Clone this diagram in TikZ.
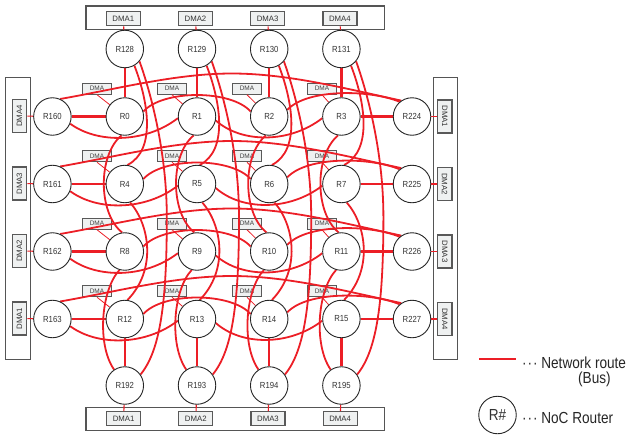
\documentclass[tikz,border=0pt]{standalone}
\usepackage{fontspec}
\setmainfont{Liberation Sans}
\newfontfamily\condfont[FakeStretch=0.88]{Liberation Sans}
\newfontfamily\legfont[FakeStretch=0.85]{Liberation Sans}
\definecolor{busred}{RGB}{236,30,38}
\definecolor{boxfill}{RGB}{239,241,241}
\definecolor{framegray}{RGB}{85,85,85}
\pgfdeclarelayer{back}
\pgfdeclarelayer{mid}
\pgfsetlayers{back,mid,main}
\begin{document}
\begin{tikzpicture}[x=1pt,y=-1pt,
  router/.style={circle, draw=black!85, line width=0.9pt, fill=white, minimum size=37.5pt, inner sep=0pt,
    font=\condfont\fontsize{8.8}{10}\selectfont, text=black!80},
  bus/.style={draw=busred, line width=1.8pt},
  busstraight/.style={draw=busred, line width=2.3pt},
  tap/.style={draw=busred, line width=0.8pt},
  edgetap/.style={draw=busred, line width=1.1pt},
  frame/.style={draw=framegray, line width=1.2pt},
  dmabox/.style={draw=black!65, line width=1.2pt, fill=boxfill, inner sep=0pt, minimum width=34pt, minimum height=14pt,
    font=\fontsize{7.8}{9}\selectfont, text=black!80},
  dmasmall/.style={draw=black!65, line width=1.1pt, fill=boxfill, inner sep=0pt, minimum width=28.5pt, minimum height=11pt,
    font=\fontsize{6.5}{7}\selectfont, text=black!75},
  legtext/.style={font=\legfont\fontsize{16}{18}\selectfont, text=black!85, inner sep=0pt},
]
\useasboundingbox (0,0) rectangle (632,434);

% ---------- frames ----------
\begin{pgfonlayer}{back}
\draw[frame] (86,6) rectangle (384.3,29.3);
\draw[frame] (86,407.7) rectangle (384.3,430.7);
\draw[frame] (5.3,77.3) rectangle (30.7,359.3);
\draw[frame] (433.3,77.3) rectangle (457.7,359.3);
\end{pgfonlayer}

% ---------- routers of the rows ----------
\foreach \rowi/\y in {0/116.5,1/184,2/251.5,3/319}{
  \pgfmathtruncatemacro\lname{160+\rowi}
  \pgfmathtruncatemacro\rname{224+\rowi}
  \pgfmathtruncatemacro\ldma{4-\rowi}
  \pgfmathtruncatemacro\rdma{\rowi+1}
  \node[router] (R\lname) at (52.4,\y) {R\lname};
  \node[router] (R\rname) at (412,\y) {R\rname};
  \begin{pgfonlayer}{back}
  \node[dmabox, minimum width=33pt, minimum height=14.4pt, rotate=90] (LD\rowi) at (19.5,\y-0.5) {DMA\ldma};
  \node[dmabox, minimum width=33pt, minimum height=14.4pt, rotate=-90] (RD\rowi) at (444.7,\y) {DMA\rdma};
  \end{pgfonlayer}
  \begin{pgfonlayer}{mid}
  \draw[edgetap] (LD\rowi) -- (R\lname);
  \draw[edgetap] (R\rname) -- (RD\rowi);
  \end{pgfonlayer}
  \foreach \coli/\x/\bx in {0/124.8/97,1/197/172,2/269.2/247,3/341.4/322}{
    \pgfmathtruncatemacro\nn{4*\rowi+\coli}
    \node[router] (R\nn) at (\x,\y) {R\nn};
    \begin{pgfonlayer}{back}
    \node[dmasmall] (D\nn) at (\bx,\y-27.8) {DMA};
    \end{pgfonlayer}
    \begin{pgfonlayer}{mid}
    \draw[tap] (D\nn.south) -- (R\nn);
    \end{pgfonlayer}
  }
}

% ---------- top and bottom routers ----------
\foreach \coli/\x in {0/124.8,1/197,2/269.2,3/341.4}{
  \pgfmathtruncatemacro\tname{128+\coli}
  \pgfmathtruncatemacro\bname{192+\coli}
  \pgfmathtruncatemacro\k{\coli+1}
  \node[router] (R\tname) at (\x,49) {R\tname};
  \node[router] (R\bname) at (\x,385.5) {R\bname};
  \begin{pgfonlayer}{back}
  \node[dmabox] (TD\coli) at (\x-1.5,18.7) {DMA\k};
  \node[dmabox] (BD\coli) at (\x-1.2,418.8) {DMA\k};
  \end{pgfonlayer}
  \begin{pgfonlayer}{mid}
  \draw[edgetap] (TD\coli) -- (R\tname);
  \draw[edgetap] (R\bname) -- (BD\coli);
  \end{pgfonlayer}
}

% ---------- row buses ----------
\begin{pgfonlayer}{mid}
\foreach \rowi/\y in {0/116.5,1/184,2/251.5,3/319}{
  \pgfmathtruncatemacro\lname{160+\rowi}
  \pgfmathtruncatemacro\rname{224+\rowi}
  \pgfmathtruncatemacro\na{4*\rowi}
  \pgfmathtruncatemacro\nb{4*\rowi+1}
  \pgfmathtruncatemacro\nc{4*\rowi+2}
  \pgfmathtruncatemacro\nd{4*\rowi+3}
  \draw[busstraight] (R\lname) -- (R\na);
  \draw[busstraight] (R\nd) -- (R\rname);
  \draw[bus] (R\lname.-22) .. controls (97,\y+27) and (145,\y+27) .. (R\nb.185);
  \draw[bus] (R\nb.-12) .. controls (241.6,\y+27) and (289.6,\y+27) .. (R\nd.185);
  \draw[bus] (R\na.15) .. controls (163,\y-27) and (231,\y-27) .. (R\nc.165);
  \draw[bus] (R\nc.20) .. controls (307,\y-28) and (370,\y-27) .. (R\rname.130);
  \draw[bus] (R\lname.66) .. controls (115,\y-27) and (175,\y-43) .. (232,\y-43)
                          .. controls (289,\y-43) and (349,\y-27) .. (R\rname.124);
}

% ---------- column buses ----------
\foreach \coli/\x in {0/124.8,1/197,2/269.2,3/341.4}{
  \pgfmathtruncatemacro\tname{128+\coli}
  \pgfmathtruncatemacro\bname{192+\coli}
  \pgfmathtruncatemacro\ra{\coli}
  \pgfmathtruncatemacro\rb{4+\coli}
  \pgfmathtruncatemacro\rc{8+\coli}
  \pgfmathtruncatemacro\rd{12+\coli}
  \draw[busstraight] (R\tname) -- (R\ra);
  \draw[busstraight] (R\rd) -- (R\bname);
  \draw[bus] (R\tname.-60) .. controls (\x+23,100) and (\x+32,150) .. (R\rb.82);
  \draw[bus] (R\ra.-100) .. controls (\x-27,155) and (\x-27,213) .. (R\rc.98);
  \draw[bus] (R\rb.-74) .. controls (\x+25,225) and (\x+32,270) .. (R\rd.82);
  \draw[bus] (R\rc.-106) .. controls (\x-24,290) and (\x-28,345) .. (R\bname.124);
  \draw[bus] (R\tname.-40) .. controls (\x+25,90) and (\x+42,150) .. (\x+42,217)
                           .. controls (\x+42,300) and (\x+36,350) .. (R\bname.35);
}
\end{pgfonlayer}

% ---------- legend ----------
\coordinate (legA) at (479,359.3);
\coordinate (legB) at (515.7,359.3);
\draw[busred, line width=2.2pt] (legA) -- (legB);
\node[legtext, anchor=base west] (legbus) at (522,368.3) {·\kern0.9pt·\kern0.9pt· Network route};
\node[legtext, anchor=base west] (legbus2) at (578,383.3) {(Bus)};
\node[router, minimum size=37.5pt, font=\legfont\fontsize{16}{18}\selectfont] (legR) at (497.5,415) {R\#};
\node[legtext, anchor=base west] (legnoc) at (522,423.3) {·\kern0.9pt·\kern0.9pt· NoC Router};
\end{tikzpicture}
\end{document}
